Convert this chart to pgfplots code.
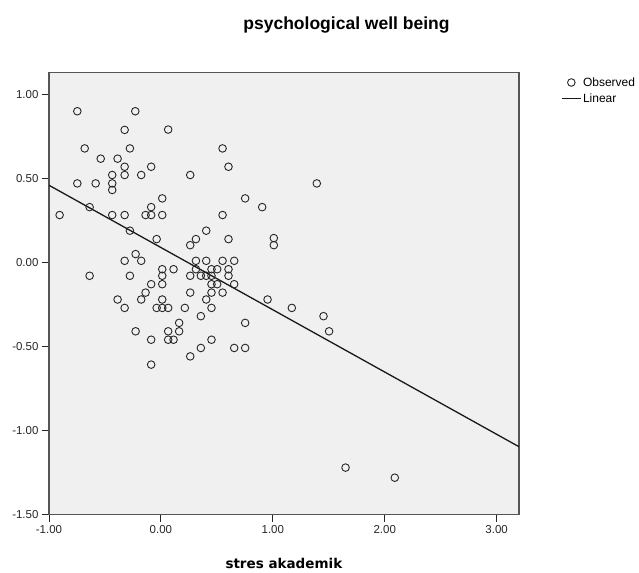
\documentclass[border=0pt]{standalone}
\usepackage{fontspec}
\setmainfont{Liberation Sans}
\newfontfamily\dejavu{DejaVu Sans}
\usepackage{pgfplots}
\pgfplotsset{compat=1.18}
\usetikzlibrary{calc}
\definecolor{plotbg}{HTML}{F0F0F0}
\definecolor{frame}{HTML}{555555}
\pgfplotsset{
  obsleg/.style={legend image code/.code={\draw[mark repeat=1, mark phase=1, ##1] plot coordinates {(9.5pt,0pt)};}},
  linleg/.style={legend image code/.code={\draw[##1] (0pt,0pt) -- (19pt,0pt);}},
}

\begin{document}
\begin{tikzpicture}
  \begin{axis}[
    name=ax,
    scale only axis,
    width=470pt, height=442pt,
    xmin=-1, xmax=3.2,
    ymin=-1.5, ymax=1.127,
    xtick={-1,0,1,2,3},
    ytick={-1.5,-1,-0.5,0,0.5,1},
    tick align=outside,
    tick pos=left,
    major tick length=7pt,
    tick style={black!85, line width=1pt},
    axis background/.style={fill=plotbg},
    axis line style={frame, line width=1.2pt},
    ticklabel style={font=\fontsize{11.5}{13}\selectfont, text=black!85},
    /pgf/number format/.cd, fixed, fixed zerofill, precision=2, assume math mode=true,
    /pgfplots/.cd,
    title={\textbf{psychological well being}},
    title style={at={(0.5,1)}, anchor=center, xshift=62.5pt, yshift=42pt, font=\fontsize{17.5}{20}\selectfont},
    xlabel={\textbf{stres akademik}},
    xlabel style={at={(0.5,0)}, anchor=center, yshift=-49pt, font=\dejavu\fontsize{13.5}{16}\selectfont},
    legend style={at={(1,1)}, anchor=north west, xshift=42pt, yshift=-3pt,
      draw=none, fill=none, font=\fontsize{12}{14}\selectfont, inner sep=0pt,
      row sep=3pt, nodes={inner sep=1.5pt}},
    legend cell align=left,
  ]
    \addplot[only marks, mark=o, mark size=3.8pt, mark options={line width=0.9pt, draw=black!85}, obsleg]
    coordinates {
      (-0.905,0.281) (-0.747,0.898) (-0.229,0.898) (-0.324,0.787) (0.065,0.789)
      (-0.681,0.677) (-0.277,0.677) (0.551,0.677) (-0.538,0.616) (-0.387,0.616)
      (-0.324,0.568) (-0.087,0.568) (0.604,0.568) (-0.435,0.519) (-0.324,0.519)
      (-0.176,0.519) (0.262,0.519) (-0.747,0.469) (-0.583,0.469) (-0.435,0.469)
      (-0.435,0.430) (1.393,0.469) (-0.637,0.328) (-0.087,0.328) (0.012,0.380)
      (0.753,0.380) (0.905,0.328) (-0.435,0.281) (-0.324,0.281) (-0.137,0.281)
      (-0.087,0.281) (0.012,0.281) (0.551,0.281) (-0.277,0.188) (-0.038,0.138)
      (0.604,0.138) (0.405,0.188) (0.313,0.138) (0.262,0.102) (1.009,0.144)
      (1.009,0.102) (-0.226,0.049) (-0.324,0.009) (-0.176,0.009) (0.313,0.009)
      (0.405,0.009) (0.551,0.009) (0.655,0.009) (-0.637,-0.080) (-0.277,-0.080)
      (0.012,-0.041) (0.012,-0.080) (0.113,-0.041) (0.012,-0.130) (-0.087,-0.130)
      (0.262,-0.080) (0.313,-0.041) (0.357,-0.080) (0.405,-0.080) (0.452,-0.041)
      (0.503,-0.041) (0.452,-0.080) (0.452,-0.130) (0.503,-0.130) (0.604,-0.041)
      (0.604,-0.080) (0.655,-0.130) (-0.137,-0.180) (0.262,-0.180) (0.452,-0.180)
      (0.551,-0.180) (-0.387,-0.221) (-0.176,-0.221) (0.012,-0.221) (0.405,-0.221)
      (0.953,-0.221) (-0.324,-0.271) (-0.038,-0.271) (0.012,-0.271) (0.065,-0.271)
      (0.214,-0.271) (0.452,-0.271) (1.170,-0.271) (0.357,-0.320) (1.453,-0.320)
      (0.163,-0.360) (0.753,-0.360) (-0.226,-0.410) (0.065,-0.410) (0.163,-0.410)
      (1.503,-0.410) (-0.087,-0.460) (0.065,-0.460) (0.113,-0.460) (0.452,-0.460)
      (0.357,-0.509) (0.655,-0.509) (0.753,-0.509) (0.262,-0.559) (-0.087,-0.608)
      (1.650,-1.220) (2.090,-1.280)
    };
    \addlegendentry{Observed}
    \addplot[black!90, line width=1.3pt, linleg]
    coordinates {(-1,0.458) (3.2,-1.096)};
    \addlegendentry{Linear}
  \end{axis}
  \path[use as bounding box] ($(ax.south west)+(-49pt,-57pt)$) rectangle ($(ax.north east)+(120pt,72.7pt)$);
\end{tikzpicture}
\end{document}
